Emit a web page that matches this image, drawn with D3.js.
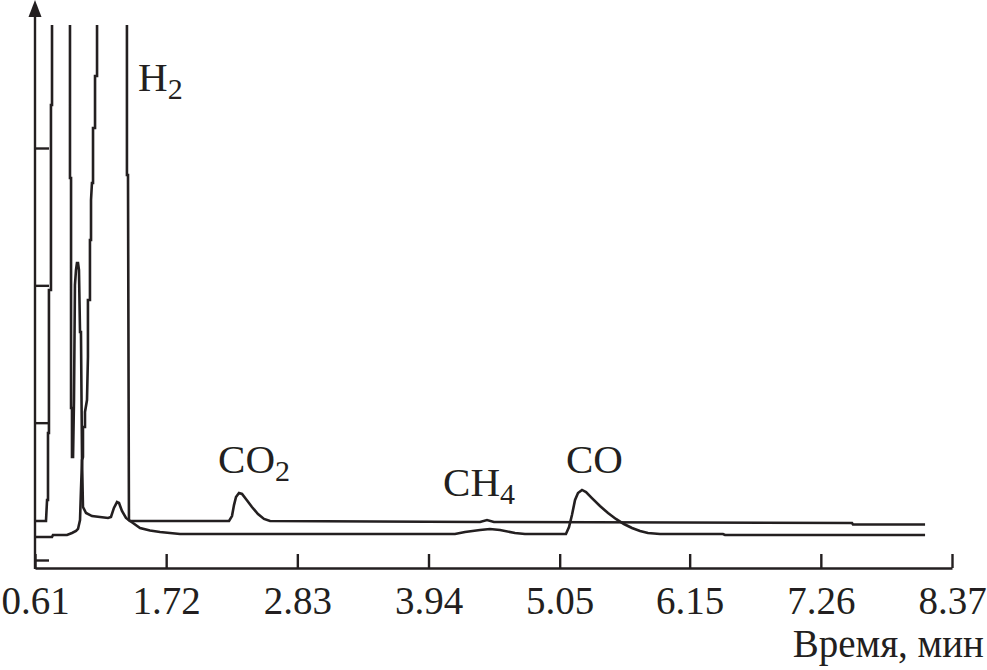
<!DOCTYPE html>
<html>
<head>
<meta charset="utf-8">
<script src="https://cdn.jsdelivr.net/npm/d3@7"></script>
<style>
  body { margin: 0; background: #fff; }
  svg { display: block; }
</style>
</head>
<body>
<div id="chart-area"></div>
<script>
// Time axis ticks (min)
var timeTicks = [0.61, 1.72, 2.83, 3.94, 5.05, 6.15, 7.26, 8.37];
var signalTicks = [0, 100, 200, 300];

// Trace 1 (upper baseline): H2, CO2
var trace1Time = [0.610, 0.703, 0.712, 0.720, 0.720, 0.728, 0.728, 0.745, 0.745, 0.754, 0.754,
    0.906, 0.906, 0.915, 0.915, 0.923, 0.923, 0.932,
    0.940, 0.948, 0.957, 0.965, 0.974, 0.982, 0.991, 0.999, 1.008, 1.016,
    1.042, 1.092, 1.160, 1.228, 1.253, 1.278, 1.304, 1.321, 1.346, 1.380, 1.414,
    2.252, 2.277, 2.294, 2.311, 2.336, 2.362, 2.395, 2.446, 2.497, 2.548, 2.599,
    4.376, 4.435, 4.494, 7.524, 7.532, 8.142];
var trace1Signal = [28.4, 28.4, 43.7, 43.7, 92.5, 92.5, 196.6, 196.6, 331.3, 331.3, 420,
    420, 278.2, 278.2, 110.7, 110.7, 75.0, 75.0,
    116.5, 200.2, 211.2, 216.3, 216.3, 211.2, 166.0, 166.0, 72.8, 38.6,
    34.2, 32.0, 31.3, 30.6, 31.3, 37.9, 42.2, 41.5, 35.7, 30.6, 28.4,
    28.4, 32.0, 40.0, 45.9, 48.8, 48.1, 44.4, 38.6, 33.5, 29.9, 28.4,
    27.7, 29.1, 27.7, 26.9, 25.9, 25.9];

// Trace 2 (lower baseline): H2, CH4, CO
var trace2Time = [0.610, 0.754, 0.762, 0.881, 0.923, 0.957, 0.974, 0.991, 0.999, 1.008, 1.016, 1.016,
    1.033, 1.033, 1.050, 1.058, 1.058, 1.075, 1.075, 1.084, 1.084, 1.092, 1.101, 1.101, 1.118, 1.118,
    1.135, 1.135, 1.388, 1.388, 1.397, 1.405, 1.439, 1.499, 1.583, 1.668, 1.752, 1.837,
    4.164, 4.249, 4.376, 4.460, 4.545, 4.672, 4.756,
    5.103, 5.129, 5.154, 5.180, 5.205, 5.239, 5.273, 5.323, 5.391, 5.459, 5.526, 5.594,
    5.662, 5.730, 5.797, 5.899, 6.432, 6.449, 8.142];
var trace2Signal = [16.7, 16.7, 18.2, 18.2, 19.7, 21.1, 22.6, 29.1, 51.0, 72.8, 75.0, 96.8,
    96.8, 107.8, 116.5, 147.8, 189.3, 189.3, 233.0, 233.0, 262.1, 274.5, 274.5, 314.6, 314.6, 352.4,
    352.4, 420, 420, 280.3, 280.3, 29.1, 26.9, 23.3, 21.5, 20.4, 19.7, 18.9,
    18.9, 20.4, 21.8, 22.6, 21.8, 19.7, 18.9,
    18.9, 24.0, 32.8, 43.7, 48.8, 51.0, 49.5, 45.1, 39.3, 34.2, 29.9, 26.2,
    23.3, 21.1, 19.7, 18.9, 18.9, 18.2, 18.2];

// Peak labels
var peakNames = ["H", "CO", "CH", "CO"];
var peakSubs = ["2", "2", "4", ""];
var peakTime = [1.482, 2.159, 4.063, 5.103];
var peakSignal = [341.5, 63.4, 46.6, 63.4];

var axisLabel = "Время, мин";

var ink = "#231f20";
var font = "'Liberation Serif', 'Times New Roman', serif";

var svg = d3.select("#chart-area")
    .append("svg")
        .attr("width", 987)
        .attr("height", 670);

// Scales
var x = d3.scaleLinear()
    .domain([0.61, 8.37])
    .range([35, 952]);
var y = d3.scaleLinear()
    .domain([0, 300])
    .range([560, 148]);

var axisY = y(0) + 8;

// Clip for off-scale peaks
svg.append("clipPath")
    .attr("id", "plot-clip")
  .append("rect")
    .attr("x", x(0.61))
    .attr("y", 25)
    .attr("width", x(8.37) - x(0.61) + 10)
    .attr("height", axisY - 25);

var line = d3.line()
    .x(function(d){ return x(d[0]); })
    .y(function(d){ return y(d[1]); });

var traces = [
    d3.zip(trace1Time, trace1Signal),
    d3.zip(trace2Time, trace2Signal)
];

svg.append("g")
    .attr("clip-path", "url(#plot-clip)")
    .selectAll("path")
    .data(traces)
    .enter()
    .append("path")
        .attr("d", line)
        .attr("fill", "none")
        .attr("stroke", ink)
        .attr("stroke-width", 2.6)
        .attr("stroke-linejoin", "miter");

// X Axis
var xAxisCall = d3.axisBottom(x)
    .tickValues(timeTicks)
    .tickFormat(d3.format(".2f"))
    .tickSizeInner(-14)
    .tickSizeOuter(0);
var xAxis = svg.append("g")
    .attr("transform", "translate(0," + axisY + ")")
    .call(xAxisCall);
xAxis.select(".domain").attr("stroke", ink).attr("stroke-width", 2.4);
xAxis.selectAll(".tick line").attr("stroke", ink).attr("stroke-width", 2.4);
xAxis.selectAll(".tick text")
    .attr("y", 46)
    .attr("dy", 0)
    .attr("fill", ink)
    .attr("font-family", font)
    .attr("font-size", "39px");

// Y Axis (ticks only, no labels)
var yAxisCall = d3.axisRight(y)
    .tickValues(signalTicks)
    .tickFormat("")
    .tickSize(14);
var yAxis = svg.append("g")
    .attr("transform", "translate(" + x(0.61) + ",0)")
    .call(yAxisCall);
yAxis.select(".domain").remove();
yAxis.selectAll(".tick line").attr("stroke", ink).attr("stroke-width", 2.4);

svg.append("line")
    .attr("x1", x(0.61))
    .attr("x2", x(0.61))
    .attr("y1", axisY + 1)
    .attr("y2", 12)
    .attr("stroke", ink)
    .attr("stroke-width", 2.4);
svg.append("path")
    .attr("d", "M" + x(0.61) + ",0 L" + (x(0.61) - 6.5) + ",17 L" + (x(0.61) + 6.5) + ",17 Z")
    .attr("fill", ink);

// Axis title
svg.append("text")
    .attr("x", 984)
    .attr("y", 657)
    .attr("text-anchor", "end")
    .attr("font-family", font)
    .attr("font-size", "39px")
    .attr("fill", ink)
    .text(axisLabel);

// Peak labels
peakNames.forEach(function(name, i){
    var label = svg.append("text")
        .attr("x", x(peakTime[i]))
        .attr("y", y(peakSignal[i]))
        .attr("font-family", font)
        .attr("font-size", "41px")
        .attr("fill", ink);
    label.append("tspan").text(name);
    if (peakSubs[i]) {
        label.append("tspan")
            .attr("dy", 8)
            .attr("font-size", "30px")
            .text(peakSubs[i]);
    }
});
</script>
</body>
</html>
